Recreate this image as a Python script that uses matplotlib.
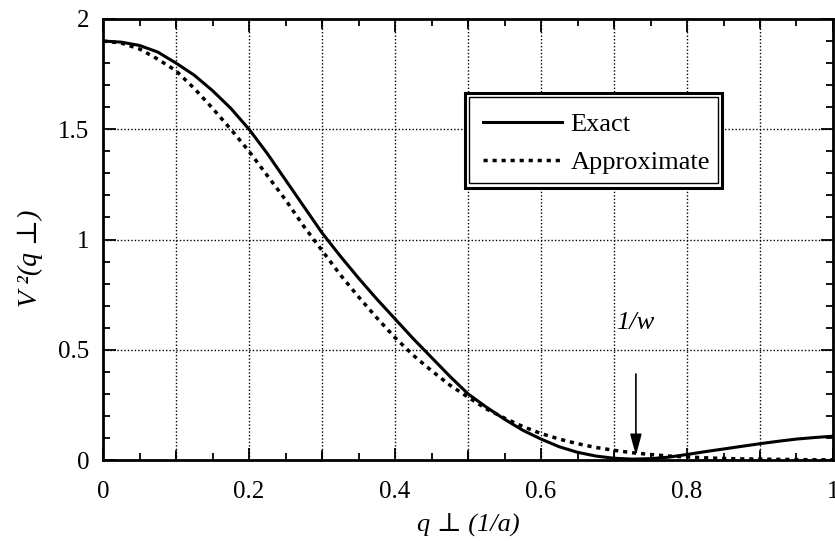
import numpy as np
import matplotlib
matplotlib.use("Agg")
import matplotlib.pyplot as plt
from matplotlib.patches import Rectangle
from matplotlib.lines import Line2D
from matplotlib.ticker import MultipleLocator, FixedLocator, FixedFormatter

SERIF = ["Liberation Serif", "DejaVu Serif"]
plt.rcParams["font.family"] = SERIF

# q_perp in units of 1/a
q = [0.000, 0.025, 0.050, 0.075, 0.100, 0.125, 0.150, 0.175, 0.200, 0.225,
     0.250, 0.275, 0.300, 0.325, 0.350, 0.375, 0.400, 0.425, 0.450, 0.475,
     0.500, 0.525, 0.550, 0.575, 0.600, 0.625, 0.650, 0.675, 0.700, 0.725,
     0.750, 0.775, 0.800, 0.825, 0.850, 0.875, 0.900, 0.925, 0.950, 0.975,
     1.000]

exact = [1.900, 1.895, 1.880, 1.850, 1.800, 1.745, 1.675, 1.595, 1.500, 1.390,
         1.270, 1.150, 1.030, 0.925, 0.825, 0.730, 0.640, 0.550, 0.465, 0.380,
         0.300, 0.240, 0.185, 0.135, 0.095, 0.060, 0.035, 0.018, 0.008, 0.004,
         0.006, 0.013, 0.025, 0.038, 0.050, 0.062, 0.074, 0.085, 0.095, 0.102,
         0.108]

approx = [1.900, 1.891, 1.864, 1.818, 1.765, 1.685, 1.595, 1.500, 1.400, 1.290,
          1.180, 1.060, 0.950, 0.840, 0.740, 0.645, 0.555, 0.475, 0.405, 0.340,
          0.285, 0.232, 0.190, 0.152, 0.120, 0.095, 0.074, 0.057, 0.044, 0.033,
          0.025, 0.018, 0.014, 0.010, 0.007, 0.005, 0.004, 0.003, 0.002, 0.001,
          0.001]

x_ticks = [0.0, 0.2, 0.4, 0.6, 0.8, 1.0]
x_tick_labels = ["0", "0.2", "0.4", "0.6", "0.8", "1"]
y_ticks = [0.0, 0.5, 1.0, 1.5, 2.0]
y_tick_labels = ["0", "0.5", "1", "1.5", "2"]

marker_q = 0.73          # position of 1/w
marker_top = 0.39
marker_tip = 0.02

fig = plt.figure(figsize=(8.35, 5.41), dpi=100)
ax = fig.add_axes([0.1234, 0.1497, 0.8742, 0.8152])

ax.plot(q, exact, color="black", lw=2.2, solid_capstyle="butt", zorder=3)
ax.plot(q, approx, color="black", lw=2.5, linestyle=(0, (1.2, 1.4)), zorder=3)

ax.set_xlim(0, 1)
ax.set_ylim(0, 2)

# grid: every 0.1 in q, every 0.5 in V^2
for gx in np.arange(1, 10) / 10:
    ax.axvline(gx, color="black", lw=1.0, linestyle=(0, (1, 1.5)), zorder=1)
for gy in y_ticks[1:-1]:
    ax.axhline(gy, color="black", lw=1.0, linestyle=(0, (1, 1.5)), zorder=1)

ax.xaxis.set_major_locator(FixedLocator(x_ticks))
ax.xaxis.set_major_formatter(FixedFormatter(x_tick_labels))
ax.xaxis.set_minor_locator(MultipleLocator(0.05))
ax.yaxis.set_major_locator(FixedLocator(y_ticks))
ax.yaxis.set_major_formatter(FixedFormatter(y_tick_labels))
ax.yaxis.set_minor_locator(MultipleLocator(0.1))

ax.tick_params(which="both", direction="in", top=True, right=True,
               color="black", width=1.3)
ax.tick_params(which="major", length=9, labelsize=18)
ax.tick_params(which="minor", length=5)
ax.tick_params(axis="x", which="major", pad=15)
ax.tick_params(axis="y", which="major", pad=10)
# longer ticks at the unlabeled 0.1 grid positions as well
for gx in [0.1, 0.3, 0.5, 0.7, 0.9]:
    ax.plot([gx, gx], [0, 0.04], color="black", lw=1.3, zorder=2,
            clip_on=False)
    ax.plot([gx, gx], [2, 1.96], color="black", lw=1.3, zorder=2,
            clip_on=False)

for s in ax.spines.values():
    s.set_linewidth(2.0)

ax.set_xlabel("q ⊥ (1/a)", fontsize=19, style="italic", family=SERIF,
              labelpad=8)
ax.set_ylabel("V ²(q ⊥)", fontsize=20, style="italic", family=SERIF)
ax.yaxis.set_label_coords(-0.082, 0.458)

# arrow marking 1/w
ax.annotate("", xy=(marker_q, marker_tip), xytext=(marker_q, marker_top),
            arrowprops=dict(arrowstyle="-|>,head_length=1.3,head_width=0.35",
                            color="black", lw=1.2, shrinkA=0, shrinkB=0),
            zorder=4)
ax.text(marker_q - 0.027, 0.62, "1/w", fontsize=19, style="italic",
        family=SERIF, ha="left", va="center")

# legend with a double frame
lx0, ly0, lx1, ly1 = 0.496, 0.617, 0.848, 0.832
ax.add_patch(Rectangle((lx0, ly0), lx1 - lx0, ly1 - ly0,
                       transform=ax.transAxes, facecolor="white",
                       edgecolor="black", lw=2.2, zorder=5))
ix, iy = 0.006, 0.010
ax.add_patch(Rectangle((lx0 + ix, ly0 + iy), lx1 - lx0 - 2 * ix,
                       ly1 - ly0 - 2 * iy, transform=ax.transAxes,
                       facecolor="none", edgecolor="black", lw=1.0, zorder=6))
handles = [Line2D([], [], color="black", lw=2.2),
           Line2D([], [], color="black", lw=2.5, linestyle=(0, (1.2, 1.4)))]
leg = ax.legend(handles, ["Exact", "Approximate"],
                loc="center", bbox_to_anchor=((lx0 + lx1) / 2 + 0.004,
                                              (ly0 + ly1) / 2 - 0.006),
                frameon=False, fontsize=19, handlelength=3.0,
                handletextpad=0.3, labelspacing=0.55, borderpad=0)
leg.set_zorder(7)

fig.savefig("out.png", dpi=100)
